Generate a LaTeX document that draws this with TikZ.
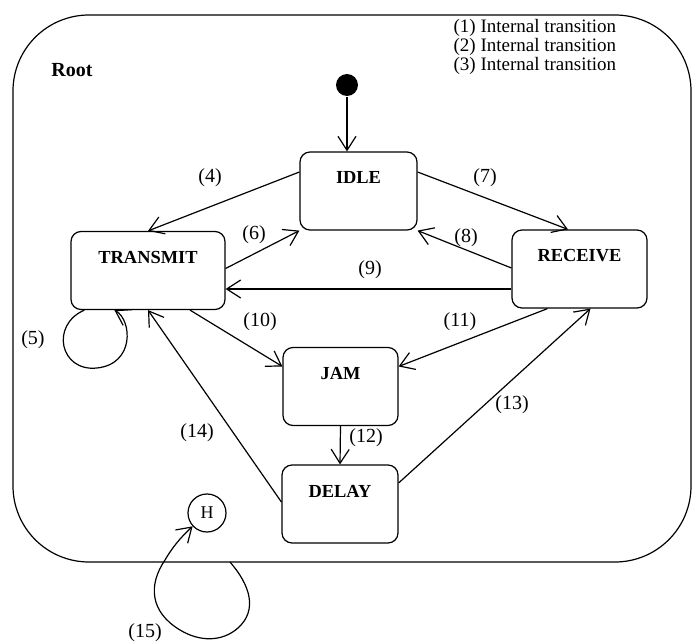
\documentclass[tikz,border=0pt]{standalone}
\usepackage{fontspec}
\setmainfont{Liberation Serif}
\usetikzlibrary{arrows, arrows.meta}

\tikzset{
  statebox/.style={draw, rounded corners=5pt, inner sep=0pt, text height=16pt, text depth=23pt,
    font=\fontsize{9.2}{10}\selectfont\bfseries},
  numlabel/.style={inner sep=0pt, font=\fontsize{10}{11}\selectfont}
}

\begin{document}
\begin{tikzpicture}[x=0.5pt, y=-0.5pt, line width=0.6pt, >={Straight Barb[length=7pt,width=9pt]}]
      \useasboundingbox (0,0) rectangle (692,642);

      % Root state
      \draw[rounded corners=38pt] (13,15) rectangle (691,562);
      \node[inner sep=0pt, font=\fontsize{10}{11}\selectfont\bfseries] (root) at (72,70) {Root};
      \node[inner sep=0pt, anchor=west, align=left, font=\fontsize{9.5}{9.5}\selectfont] (notes) at (453,47)
        {(1) Internal transition\\(2) Internal transition\\(3) Internal transition};

      % States
      \node[circle, fill, inner sep=0pt, minimum size=11pt] (init) at (347,85) {};
      \node[statebox, minimum width=58.5pt] (idle) at (358.5,191) {IDLE};
      \node[statebox, minimum width=77pt] (transmit) at (148,270.5) {TRANSMIT};
      \node[statebox, minimum width=67.5pt] (receive) at (579.5,269) {RECEIVE};
      \node[statebox, minimum width=57.5pt] (jam) at (340.5,386.5) {JAM};
      \node[statebox, minimum width=58pt] (delay) at (340,504) {DELAY};
      \node[draw, circle, inner sep=0pt, minimum size=19pt, font=\fontsize{9}{10}\selectfont] (hist) at (207,513) {H};
      \coordinate (hstart) at (230,562);

      % Transitions
      \draw[->] (init) -- ([xshift=-5.75pt]idle.north);
      \draw[->] ([yshift=9.5pt]idle.west) -- (transmit.north);
      \draw[->] ([yshift=1pt]transmit.east) -- (idle.south west);
      \draw[->] ([yshift=9.5pt]idle.east) -- ([xshift=-5.75pt]receive.north);
      \draw[->] ([yshift=0.5pt]receive.west) -- (idle.south east);
      \draw[->] ([yshift=-10pt]receive.west) -- ([yshift=-9.25pt]transmit.east);
      \draw[->] ([xshift=21pt]transmit.south) -- ([yshift=10pt]jam.west);
      \draw[->] ([xshift=-16pt]receive.south) -- ([yshift=10pt]jam.east);
      \draw[->] (jam.south) -- (delay.north);
      \draw[->] ([yshift=10.5pt]delay.east) -- ([xshift=5.5pt]receive.south);
      \draw[->] ([yshift=1pt]delay.west) -- (transmit.south);
      \draw[->] ([xshift=7pt]transmit.south west) .. controls (50,325) and (60,372) .. (97,368)
        .. controls (135,364) and (132,320) .. ([xshift=22pt]transmit.south west);
      \draw[->] (hstart) .. controls (250,585) and (258,610) .. (238,628)
        .. controls (222,642) and (200,642) .. (180,630)
        .. controls (150,612) and (148,585) .. (165,560)
        .. controls (172,548) and (180,538) .. (hist);

      % Transition numbers
      \foreach \n/\x/\y in {4/210/178, 5/33/340, 6/254/235, 7/485/178, 8/466/238, 9/370/270,
                            10/260/322, 11/460/322, 12/366/438, 13/512/405, 14/197/433, 15/145/633}
        \node[numlabel] (lbl\n) at (\x,\y) {(\n)};
    \end{tikzpicture}
\end{document}
